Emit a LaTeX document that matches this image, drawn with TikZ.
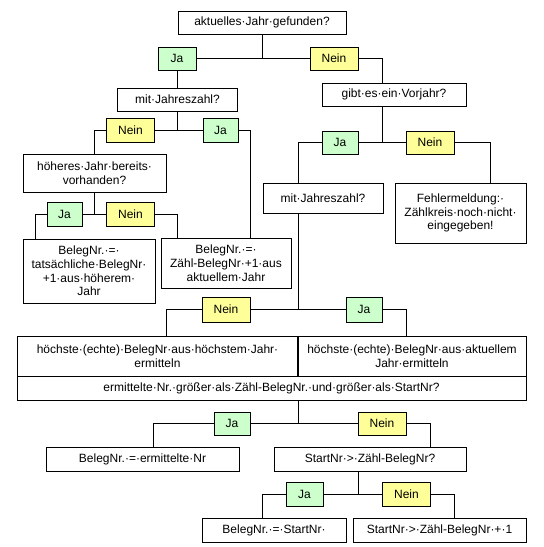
\documentclass[tikz,border=0pt]{standalone}
\usepackage{fontspec}
\setmainfont{Liberation Sans}
\definecolor{jagreen}{RGB}{204,255,204}
\definecolor{neinyellow}{RGB}{255,255,153}
\begin{document}
\begin{tikzpicture}[x=1pt,y=-1pt, line width=0.9pt,
  every node/.style={font=\fontsize{12}{13.8}\selectfont, inner sep=0pt, align=center},
  box/.style={draw, fill=white},
  ja/.style={draw, fill=jagreen, minimum width=36pt, minimum height=23pt},
  nein/.style={draw, fill=neinyellow, minimum width=48pt, minimum height=23pt}]
\fill[white] (0,0) rectangle (544,547);
\useasboundingbox (0,0) rectangle (544,547);

% nodes
\node[box, minimum width=168pt, minimum height=23pt] (top) at (262,22.5) {aktuelles·Jahr·gefunden?};
\node[ja, minimum width=38pt] (ja1) at (177,58.5) {Ja};
\node[nein] (nein1) at (334,58.5) {Nein};
\node[box, minimum width=120pt, minimum height=23pt] (mit1) at (177.5,99.5) {mit·Jahreszahl?};
\node[box, minimum width=144pt, minimum height=23pt] (gibt) at (394,94.5) {gibt·es·ein·Vorjahr?};
\node[nein, minimum height=24pt] (nein2) at (130.5,130) {Nein};
\node[ja, minimum width=35pt, minimum height=24pt] (ja2) at (220.5,130) {Ja};
\node[box, minimum width=143pt, minimum height=38pt] (hoeh) at (94.5,173) {höheres·Jahr·bereits·\\vorhanden?};
\node[ja, minimum width=35pt, minimum height=24pt] (ja3) at (64.5,214) {Ja};
\node[nein, minimum height=24pt] (nein3) at (130.5,214) {Nein};
\node[box, minimum width=132pt, minimum height=64pt] (tats) at (89,271) {BelegNr.·=·\\tatsächliche·BelegNr·\\+1·aus·höherem·\\Jahr};
\node[box, minimum width=130pt, minimum height=50pt] (zaehl) at (226,263) {BelegNr.·=·\\Zähl-BelegNr·+1·aus\\aktuellem·Jahr};
\node[ja] (ja4) at (340,142.5) {Ja};
\node[nein] (nein4) at (430,142.5) {Nein};
\node[box, minimum width=120pt, minimum height=30pt] (mit2) at (323,198) {mit·Jahreszahl?};
\node[box, minimum width=131pt, minimum height=60pt] (fehl) at (460.5,213) {Fehlermeldung:·\\Zählkreis·noch·nicht·\\eingegeben!};
\node[nein, minimum height=25pt] (nein5) at (226,309.5) {Nein};
\node[ja, minimum height=25pt] (ja5) at (364,309.5) {Ja};
\node[box, minimum width=281pt, minimum height=40pt] (cellL) at (157.5,356) {höchste·(echte)·BelegNr·aus·höchstem·Jahr·\\ermitteln};
\node[box, minimum width=228pt, minimum height=40pt] (cellR) at (412,356) {höchste·(echte)·BelegNr·aus·aktuellem\\Jahr·ermitteln};
\node[box, minimum width=509pt, minimum height=24pt] (cellB) at (271.5,388) {ermittelte·Nr.·größer·als·Zähl-BelegNr.·und·größer·als·StartNr?};
\node[ja] (ja6) at (232,423.5) {Ja};
\node[nein] (nein6) at (382,423.5) {Nein};
\node[box, minimum width=193pt, minimum height=24pt] (erm) at (142.5,459) {BelegNr.·=·ermittelte·Nr};
\node[box, minimum width=192pt, minimum height=24pt] (sz) at (370,459) {StartNr·>·Zähl-BelegNr?};
\node[ja, minimum width=37pt, minimum height=24pt] (ja7) at (304.5,494) {Ja};
\node[nein, minimum height=24pt] (nein7) at (406.5,494) {Nein};
\node[box, minimum width=144pt, minimum height=24pt] (bs) at (274,530) {BelegNr.·=·StartNr·};
\node[box, minimum width=173pt, minimum height=24pt] (sz1) at (439.5,530) {StartNr·>·Zähl-BelegNr·+·1};

% thick divider
\draw[line width=2pt] (cellL.north east) -- (cellL.south east);

% connectors
\draw (top.south) -- (top.south |- ja1.east);
\draw (ja1.east) -- (nein1.west);
\draw (nein1.east) -| ([xshift=-12pt]gibt.north);
\draw (ja1.south) -- (ja1.south |- mit1.north);
\draw (mit1.south) -- (mit1.south |- nein2.east);
\draw (nein2.east) -- (ja2.west);
\draw (nein2.west) -| (hoeh.north);
\draw (ja2.east) -| ([xshift=24pt]zaehl.north);
\draw (hoeh.south) -- (hoeh.south |- ja3.east);
\draw (ja3.east) -- (nein3.west);
\draw (ja3.west) -| ([xshift=13pt]tats.north west);
\draw (nein3.east) -| ([xshift=17pt]zaehl.north west);
\draw ([xshift=-12pt]gibt.south) -- ([xshift=-12pt]gibt.south |- ja4.east);
\draw (ja4.east) -- (nein4.west);
\draw (ja4.west) -| ([xshift=36pt]mit2.north west);
\draw (nein4.east) -| ([xshift=-36pt]fehl.north east);
\draw ([xshift=36pt]mit2.south west) -- ([xshift=36pt]mit2.south west |- nein5.east);
\draw (nein5.east) -- (ja5.west);
\draw (nein5.west) -| ([xshift=150pt]cellL.north west);
\draw (ja5.east) -| ([xshift=109pt]cellR.north west);
\draw (cellL.south east |- cellB.south) -- (cellL.south east |- ja6.east);
\draw (ja6.east) -- (nein6.west);
\draw (ja6.west) -| ([xshift=108pt]erm.north west);
\draw (nein6.east) -| ([xshift=-36pt]sz.north east);
\draw ([xshift=-12pt]sz.south) -- ([xshift=-12pt]sz.south |- ja7.east);
\draw (ja7.east) -- (nein7.west);
\draw (ja7.west) -| ([xshift=61pt]bs.north west);
\draw (nein7.east) -| ([xshift=102pt]sz1.north west);
\end{tikzpicture}
\end{document}
